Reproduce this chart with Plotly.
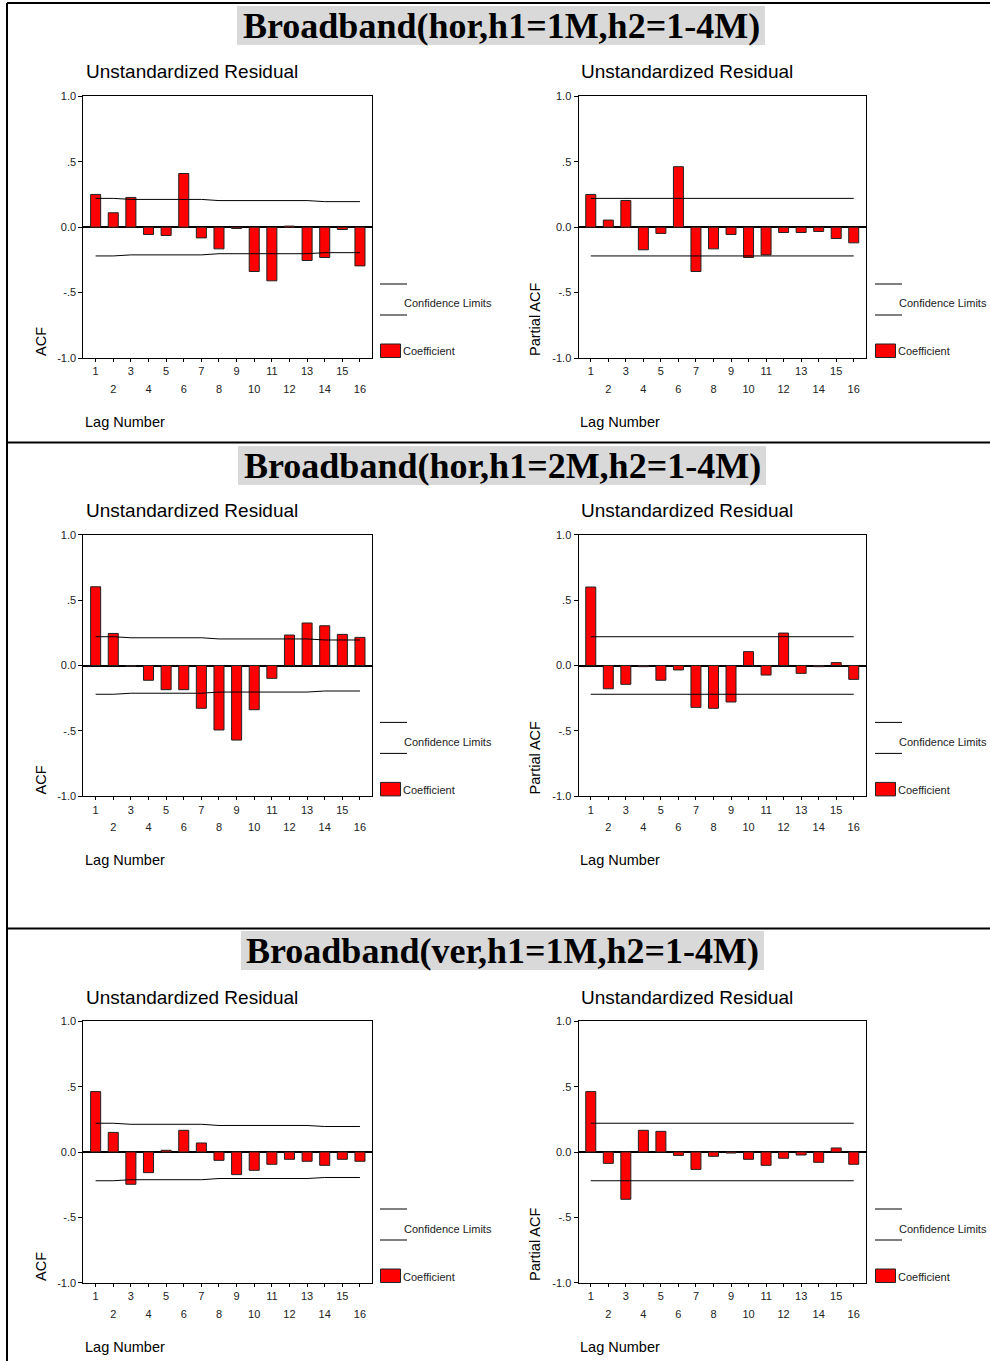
import plotly.graph_objects as go

W, H = 990, 1361

# ---------------- data ----------------
lags = [1, 2, 3, 4, 5, 6, 7, 8, 9, 10, 11, 12, 13, 14, 15, 16]

acf_hor_1m = [0.25, 0.11, 0.227, -0.056, -0.064, 0.41, -0.082, -0.166,
              -0.01, -0.339, -0.41, 0.008, -0.255, -0.232, -0.018, -0.296]
pacf_hor_1m = [0.25, 0.054, 0.204, -0.173, -0.048, 0.462, -0.339, -0.166,
               -0.056, -0.232, -0.212, -0.041, -0.041, -0.033, -0.087, -0.12]
acf_hor_2m = [0.602, 0.245, -0.006, -0.113, -0.185, -0.185, -0.327, -0.493,
              -0.57, -0.338, -0.098, 0.233, 0.325, 0.304, 0.238, 0.215]
pacf_hor_2m = [0.60, -0.178, -0.144, -0.009, -0.113, -0.034, -0.32, -0.327,
               -0.279, 0.106, -0.073, 0.248, -0.06, -0.009, 0.022, -0.106]
acf_ver_1m = [0.462, 0.15, -0.247, -0.158, 0.013, 0.166, 0.069, -0.064,
              -0.173, -0.14, -0.094, -0.056, -0.071, -0.102, -0.056, -0.071]
pacf_ver_1m = [0.462, -0.087, -0.362, 0.166, 0.158, -0.026, -0.133, -0.033,
               -0.008, -0.056, -0.102, -0.048, -0.023, -0.079, 0.031, -0.094]

acf_conf = [0.22, 0.22, 0.212, 0.212, 0.212, 0.212, 0.212, 0.203,
            0.203, 0.203, 0.203, 0.203, 0.203, 0.195, 0.195, 0.195]
pacf_conf = [0.22, 0.22, 0.22, 0.22, 0.22, 0.22, 0.22, 0.22,
             0.22, 0.22, 0.22, 0.22, 0.22, 0.22, 0.22, 0.22]

row_titles = ["Broadband(hor,h1=1M,h2=1-4M)",
              "Broadband(hor,h1=2M,h2=1-4M)",
              "Broadband(ver,h1=1M,h2=1-4M)"]
panel_title = "Unstandardized Residual"
x_title = "Lag Number"
y_titles = ["ACF", "Partial ACF"]
ytick_vals = [-1, -0.5, 0, 0.5, 1]
ytick_text = ["-1.0", "-.5", "0.0", ".5", "1.0"]
legend_labels = ["Confidence Limits", "Coefficient"]

panels = [[acf_hor_1m, pacf_hor_1m], [acf_hor_2m, pacf_hor_2m], [acf_ver_1m, pacf_ver_1m]]
confs = [acf_conf, pacf_conf]

# ---------------- layout geometry (pixels) ----------------
col_x = [(83.3, 372.3), (578.5, 866.0)]
row_y = [(96.3, 358.0), (534.7, 796.3), (1021.3, 1282.7)]
row_shift = [0, 438.4, 925.0]
col_shift = [0, 495.0]
title_box = [(237, 6, 765, 45), (238, 446, 766, 485), (241, 931, 764, 970)]
sep_y = [3, 442.5, 928.5]

SANS = "Liberation Sans, Arial, sans-serif"
SERIF = "Liberation Serif, Times New Roman, serif"


def px(x):
    return x / W


def py(y):
    return 1 - y / H


fig = go.Figure()
layout = dict(width=W, height=H, template="none", autosize=False,
              margin=dict(l=0, r=0, t=0, b=0, pad=0, autoexpand=False),
              paper_bgcolor="white", plot_bgcolor="white", showlegend=False)
shapes = []
annotations = []

odd_text = [str(l) if l % 2 == 1 else "" for l in lags]
even_vals = [l for l in lags if l % 2 == 0]
even_text = [str(l) for l in even_vals]

for r in range(3):
    for c in range(2):
        k = r * 2 + c + 1
        k2 = k + 6
        vals = panels[r][c]
        conf = confs[c]
        xa, xa2, ya = f"x{k}", f"x{k2}", f"y{k}"
        fig.add_trace(go.Bar(x=lags, y=vals, xaxis=xa, yaxis=ya,
                             marker=dict(color="#ff0000", line=dict(color="#222222", width=1)),
                             width=0.57))
        fig.add_trace(go.Scatter(x=lags, y=conf, xaxis=xa, yaxis=ya, mode="lines",
                                 line=dict(color="black", width=1)))
        fig.add_trace(go.Scatter(x=lags, y=[-v for v in conf], xaxis=xa2, yaxis=ya,
                                 mode="lines", line=dict(color="black", width=1)))
        x0, x1 = col_x[c]
        y0, y1 = row_y[r]
        dom_x = [px(x0), px(x1)]
        dom_y = [py(y1), py(y0)]
        layout[f"xaxis{k}"] = dict(domain=dom_x, anchor=ya, range=[0.3, 16.7],
                                   automargin=False,
                                   tickvals=lags, ticktext=odd_text, ticks="outside",
                                   ticklen=3, tickcolor="black", showline=True,
                                   linecolor="black", linewidth=1, mirror=True,
                                   showgrid=False, zeroline=False,
                                   tickfont=dict(family=SANS, size=11, color="#222"))
        layout[f"xaxis{k2}"] = dict(domain=dom_x, anchor=ya, overlaying=xa,
                                    automargin=False,
                                    range=[0.3, 16.7], tickvals=even_vals,
                                    ticktext=even_text, ticks="", side="bottom",
                                    showline=False, showgrid=False, zeroline=False,
                                    ticklabelstandoff=23,
                                    tickfont=dict(family=SANS, size=11, color="#222"))
        layout[f"yaxis{k}"] = dict(domain=dom_y, anchor=xa, range=[-1, 1],
                                   automargin=False,
                                   tickvals=ytick_vals, ticktext=ytick_text,
                                   ticks="outside", ticklen=4, tickcolor="black",
                                   showline=True, linecolor="black", linewidth=1,
                                   mirror=True, showgrid=False, zeroline=True,
                                   zerolinecolor="black", zerolinewidth=1.5,
                                   tickfont=dict(family=SANS, size=11, color="#222"))
        # panel title
        annotations.append(dict(text=panel_title, xref="paper", yref="paper",
                                x=px(x0 + 0.7), y=py(72 + row_shift[r]),
                                xanchor="left", yanchor="middle", showarrow=False,
                                font=dict(family=SANS, size=19, color="black")))
        # x title
        annotations.append(dict(text=x_title, xref="paper", yref="paper",
                                x=px(x0 - 0.5), y=py(422 + row_shift[r]),
                                xanchor="left", yanchor="middle", showarrow=False,
                                font=dict(family=SANS, size=14.5, color="black")))
        # y title (rotated, bottom aligned)
        annotations.append(dict(text=y_titles[c], xref="paper", yref="paper",
                                x=px(40.5 + col_shift[c] - (1 if c else 0)),
                                y=py(358 + row_shift[r]),
                                xanchor="center", yanchor="bottom", textangle=-90,
                                showarrow=False,
                                font=dict(family=SANS, size=14.5, color="black")))
        # legend
        lx = 380 + col_shift[c]
        dy = row_shift[r]
        for ly in (284, 315):
            shapes.append(dict(type="line", xref="paper", yref="paper",
                               x0=px(lx), x1=px(lx + 27), y0=py(ly + dy), y1=py(ly + dy),
                               line=dict(color="black", width=1)))
        annotations.append(dict(text=legend_labels[0], xref="paper", yref="paper",
                                x=px(lx + 21.5), y=py(303.5 + dy), xanchor="left",
                                yanchor="middle", showarrow=False,
                                font=dict(family=SANS, size=11, color="#222")))
        shapes.append(dict(type="rect", xref="paper", yref="paper",
                           x0=px(lx + 0.5), x1=px(lx + 20.5), y0=py(357.5 + dy), y1=py(344 + dy),
                           fillcolor="#ff0000", line=dict(color="#222222", width=1)))
        annotations.append(dict(text=legend_labels[1], xref="paper", yref="paper",
                                x=px(lx + 20.5), y=py(351.5 + dy), xanchor="left",
                                yanchor="middle", showarrow=False,
                                font=dict(family=SANS, size=11, color="#222")))

# row titles with gray box
for r in range(3):
    bx0, by0, bx1, by1 = title_box[r]
    shapes.append(dict(type="rect", xref="paper", yref="paper", layer="below",
                       x0=px(bx0), x1=px(bx1), y0=py(by1), y1=py(by0),
                       fillcolor="#d9d9d9", line=dict(width=0)))
    annotations.append(dict(text="<b>" + row_titles[r] + "</b>", xref="paper", yref="paper",
                            x=px((bx0 + bx1) / 2), y=py((by0 + by1) / 2 + 0.5),
                            xanchor="center", yanchor="middle", showarrow=False,
                            font=dict(family=SERIF, size=36, color="black")))

# frame lines
for sy in sep_y:
    shapes.append(dict(type="line", xref="paper", yref="paper",
                       x0=px(7), x1=1, y0=py(sy), y1=py(sy),
                       line=dict(color="black", width=2)))
shapes.append(dict(type="line", xref="paper", yref="paper",
                   x0=px(7), x1=px(7), y0=py(3), y1=0,
                   line=dict(color="black", width=2)))

layout["shapes"] = shapes
layout["annotations"] = annotations
fig.update_layout(**layout)

post = ("document.documentElement.style.margin='0';"
        "document.documentElement.style.overflow='hidden';"
        "document.body.style.margin='0';document.body.style.padding='0';"
        "var g=document.getElementById('{plot_id}');"
        "g.style.position='absolute';g.style.left='0px';g.style.top='0px';")

fig.write_html("out.html", config={"displayModeBar": False, "responsive": False},
               post_script=post)
